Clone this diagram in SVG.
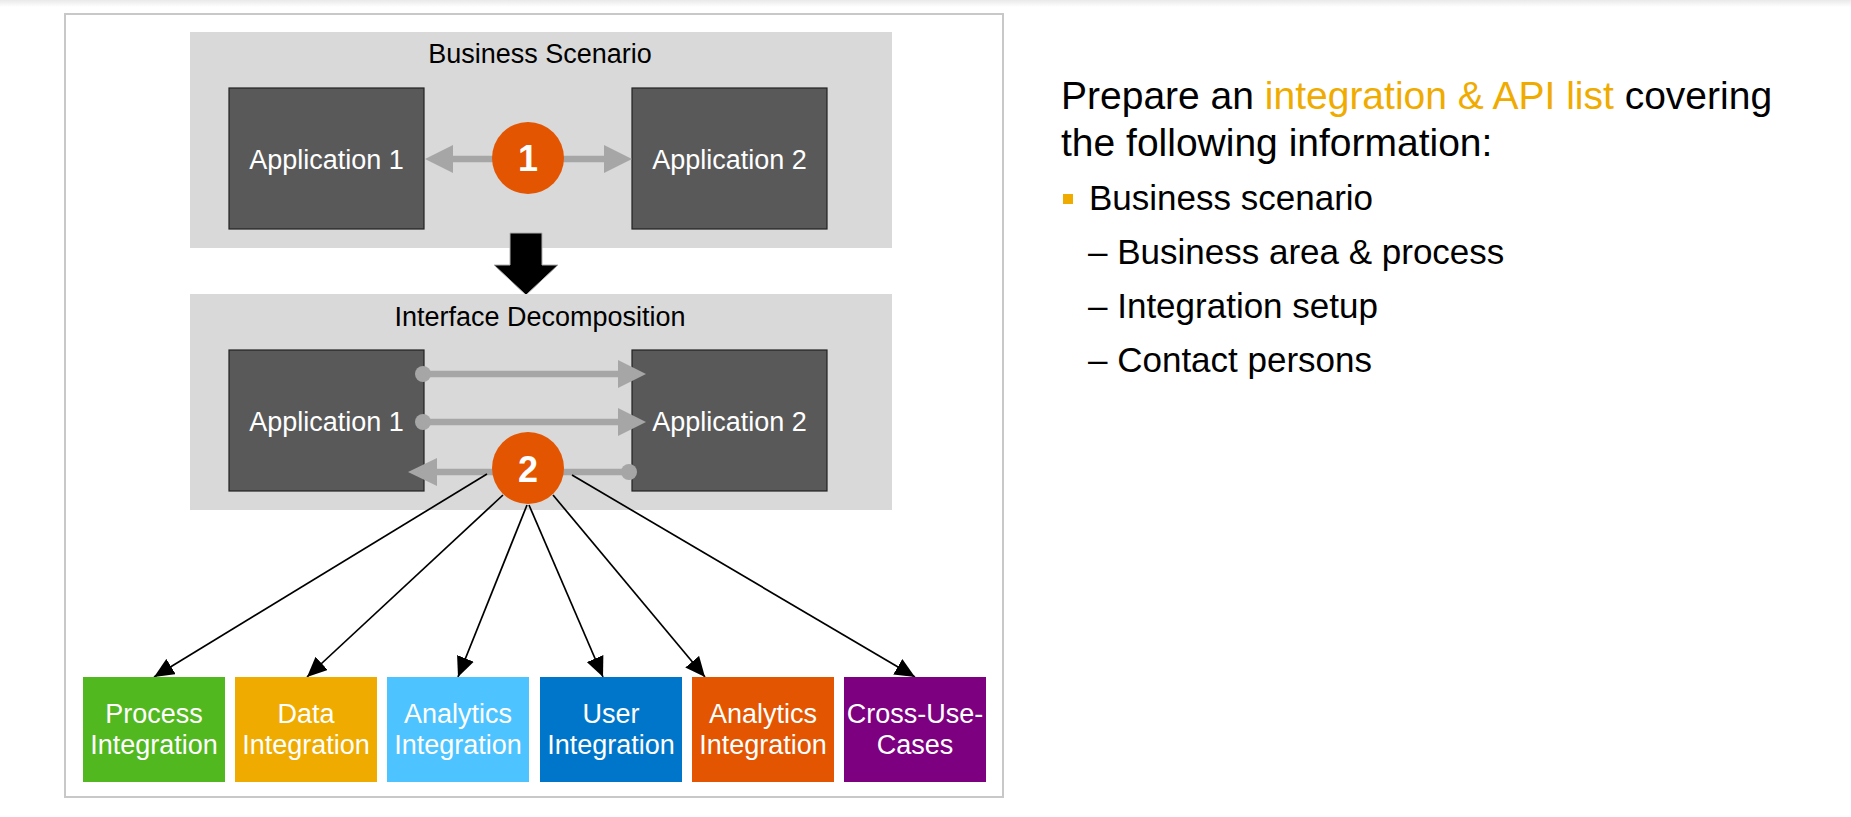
<svg xmlns="http://www.w3.org/2000/svg" width="1851" height="817" viewBox="0 0 1851 817">
  <defs>
    <linearGradient id="topShade" x1="0" y1="0" x2="0" y2="1">
      <stop offset="0" stop-color="#e9e9e9"/>
      <stop offset="1" stop-color="#ffffff"/>
    </linearGradient>
    <marker id="tip" markerUnits="userSpaceOnUse" markerWidth="22" markerHeight="18" refX="20" refY="9" orient="auto">
      <path d="M0,0 L20,9 L0,18 z" fill="#000"/>
    </marker>
  </defs>
  <style>
    .t { font-family: "Liberation Sans", Arial, sans-serif; }
    .frame { fill: #fff; stroke: #c8c8c8; stroke-width: 2; }
    .panel { fill: #d9d9d9; }
    .app { fill: #595959; stroke: #222; stroke-width: 1.2; }
    .ttl { font-size: 27px; fill: #000; text-anchor: middle; }
    .lbl { font-size: 27px; fill: #fff; text-anchor: middle; }
    .badge { fill: #e35500; }
    .num { font-size: 36px; font-weight: bold; fill: #fff; text-anchor: middle; }
    .flow { stroke: #a6a6a6; stroke-width: 6.5; fill: none; }
    .flowhead { fill: #a6a6a6; }
    .link { stroke: #000; stroke-width: 1.7; fill: none; marker-end: url(#tip); }
    .head1 { font-size: 39px; fill: #000; }
    .item { font-size: 35px; fill: #000; }
    .accent { fill: #f0ab00; }
  </style>

  <rect x="0" y="0" width="1851" height="817" fill="#fff"/>
  <rect x="0" y="0" width="1851" height="7" fill="url(#topShade)"/>

  <!-- outer frame -->
  <rect class="frame" x="65" y="14" width="938" height="783"/>

  <!-- business scenario panel -->
  <g id="business-scenario">
    <rect class="panel" x="190" y="32" width="702" height="216"/>
    <text class="t ttl" x="540" y="63">Business Scenario</text>
  </g>
  <g id="bs-app1">
    <rect class="app" x="229" y="88" width="195" height="141"/>
    <text class="t lbl" x="326.5" y="168.5">Application 1</text>
  </g>
  <g id="bs-app2">
    <rect class="app" x="632" y="88" width="195" height="141"/>
    <text class="t lbl" x="729.5" y="168.5">Application 2</text>
  </g>
  <g id="bs-flow">
    <line class="flow" x1="450" y1="159" x2="606" y2="159"/>
    <polygon class="flowhead" points="425,159 453,145 453,173"/>
    <polygon class="flowhead" points="632,159 604,145 604,173"/>
  </g>
  <g id="badge-1">
    <circle class="badge" cx="528" cy="158" r="36"/>
    <text class="t num" x="528" y="171">1</text>
  </g>

  <!-- decomposition step arrow -->
  <g id="step-arrow">
    <polygon points="510,233 542,233 542,265 558,265 526,295 494,265 510,265" fill="#000" stroke="#b0b0b0" stroke-width="1"/>
  </g>

  <!-- interface decomposition panel -->
  <g id="interface-decomposition">
    <rect class="panel" x="190" y="294" width="702" height="216"/>
    <text class="t ttl" x="540" y="325.5">Interface Decomposition</text>
  </g>
  <g id="id-app1">
    <rect class="app" x="229" y="350" width="195" height="141"/>
    <text class="t lbl" x="326.5" y="430.5">Application 1</text>
  </g>
  <g id="id-app2">
    <rect class="app" x="632" y="350" width="195" height="141"/>
    <text class="t lbl" x="729.5" y="430.5">Application 2</text>
  </g>
  <g id="id-flows">
    <circle class="flowhead" cx="423" cy="374" r="8"/>
    <line class="flow" x1="423" y1="374" x2="620" y2="374"/>
    <polygon class="flowhead" points="646,374 618,360 618,388"/>
    <circle class="flowhead" cx="423" cy="422" r="8"/>
    <line class="flow" x1="423" y1="422" x2="620" y2="422"/>
    <polygon class="flowhead" points="646,422 618,408 618,436"/>
    <circle class="flowhead" cx="629" cy="472" r="8"/>
    <line class="flow" x1="434" y1="472" x2="629" y2="472"/>
    <polygon class="flowhead" points="408,472 437,458 437,486"/>
  </g>

  <!-- connectors from the decomposition badge to the integration types -->
  <g id="connectors">
    <line class="link" x1="487" y1="474" x2="154" y2="677"/>
    <line class="link" x1="503" y1="495" x2="307" y2="677"/>
    <line class="link" x1="527" y1="505" x2="458" y2="677"/>
    <line class="link" x1="529" y1="505" x2="603" y2="677"/>
    <line class="link" x1="553" y1="495" x2="705" y2="677"/>
    <line class="link" x1="572" y1="475" x2="915" y2="677"/>
  </g>

  <g id="badge-2">
    <circle class="badge" cx="528" cy="468" r="36"/>
    <text class="t num" x="528" y="482">2</text>
  </g>

  <!-- integration types -->
  <g id="process-integration">
    <rect x="83" y="677" width="142" height="105" fill="#52b81f"/>
    <text class="t lbl" x="154" y="722.5">Process</text>
    <text class="t lbl" x="154" y="753.5">Integration</text>
  </g>
  <g id="data-integration">
    <rect x="235" y="677" width="142" height="105" fill="#f0ab00"/>
    <text class="t lbl" x="306" y="722.5">Data</text>
    <text class="t lbl" x="306" y="753.5">Integration</text>
  </g>
  <g id="analytics-integration-blue">
    <rect x="387" y="677" width="142" height="105" fill="#4dc3ff"/>
    <text class="t lbl" x="458" y="722.5">Analytics</text>
    <text class="t lbl" x="458" y="753.5">Integration</text>
  </g>
  <g id="user-integration">
    <rect x="540" y="677" width="142" height="105" fill="#0076cb"/>
    <text class="t lbl" x="611" y="722.5">User</text>
    <text class="t lbl" x="611" y="753.5">Integration</text>
  </g>
  <g id="analytics-integration-orange">
    <rect x="692" y="677" width="142" height="105" fill="#e35500"/>
    <text class="t lbl" x="763" y="722.5">Analytics</text>
    <text class="t lbl" x="763" y="753.5">Integration</text>
  </g>
  <g id="cross-use-cases">
    <rect x="844" y="677" width="142" height="105" fill="#7d0080"/>
    <text class="t lbl" x="915" y="722.5">Cross-Use-</text>
    <text class="t lbl" x="915" y="753.5">Cases</text>
  </g>

  <!-- description -->
  <g id="description">
    <text class="t head1" x="1061" y="108.5">Prepare an <tspan class="accent">integration &amp; API list</tspan> covering</text>
    <text class="t head1" x="1061" y="155.5">the following information:</text>
    <rect class="accent" x="1063" y="194" width="10" height="10"/>
    <text class="t item" x="1089" y="210">Business scenario</text>
    <text class="t item" x="1088" y="264">– Business area &amp; process</text>
    <text class="t item" x="1088" y="318">– Integration setup</text>
    <text class="t item" x="1088" y="372">– Contact persons</text>
  </g>
</svg>
